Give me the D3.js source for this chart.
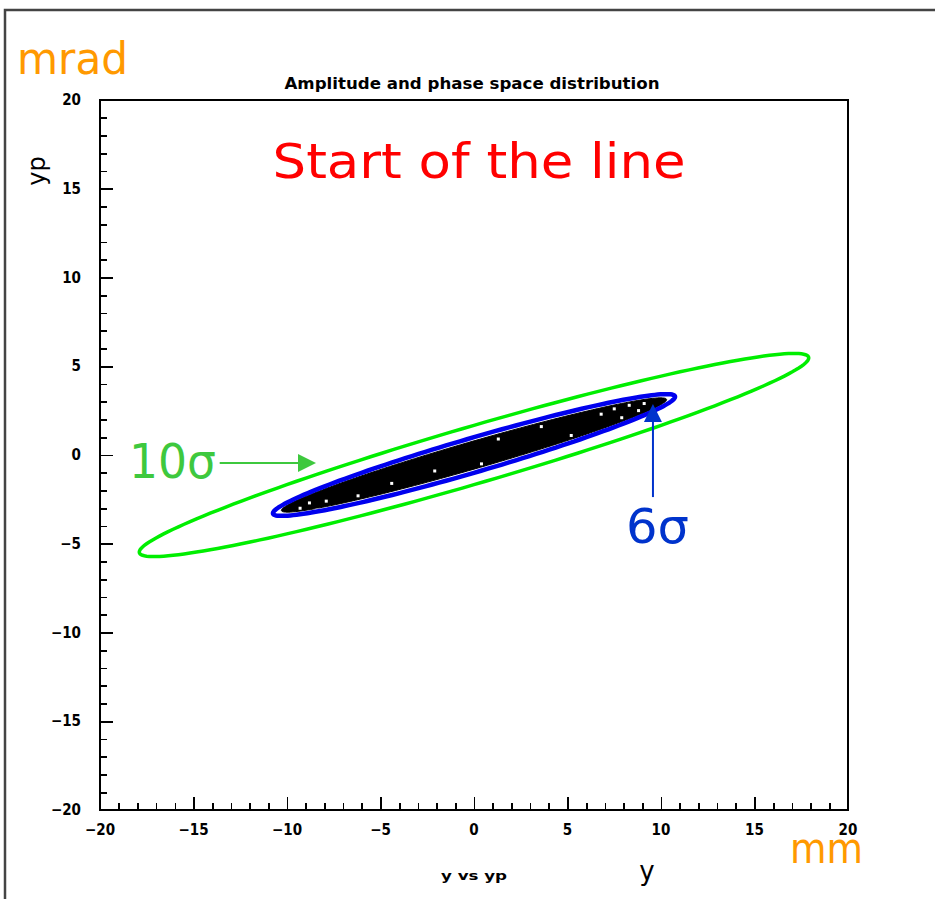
<!DOCTYPE html>
<html>
<head>
<meta charset="utf-8">
<style>
  body { margin: 0; background: white; }
  svg { font-family: "DejaVu Sans", sans-serif; }
  .axis path, .axis line { stroke: black; stroke-width: 1.6px; shape-rendering: crispEdges; }
</style>
<script src="https://cdn.jsdelivr.net/npm/d3@7"></script>
</head>
<body>
<div id="chart"></div>
<script>
// axis ranges and tick values
var xDomain = [-20, 20],
    yDomain = [-20, 20],
    majorTicks = [-20, -15, -10, -5, 0, 5, 10, 15, 20];

// phase-space contours: half width in y (mm), peak yp (mrad), yp at the y extreme
var contourNames = ["10σ", "6σ", "core"],
    contourYMax = [17.9, 10.75, 10.3],
    contourYpMax = [5.72, 3.43, 3.22],
    contourYpAtYMax = [5.47, 3.28, 3.12];

// a few empty spots seen inside the beam core (y, yp)
var holesY = [-9.3, -8.8, -8.4, -7.9, -7.3, -6.2, -4.4, -2.1, 1.3, 3.6, 6.8, 7.5, 7.9, 8.3, 8.8, 9.1, 5.2, 0.4],
    holesYp = [-3.0, -2.7, -3.1, -2.6, -2.9, -2.3, -1.6, -0.9, 0.9, 1.6, 2.3, 2.6, 2.1, 2.8, 2.5, 2.9, 1.1, -0.5];

var width = 935, height = 899;
var plotLeft = 100, plotRight = 848, plotTop = 100, plotBottom = 810;

var x = d3.scaleLinear().domain(xDomain).range([plotLeft, plotRight]);
var y = d3.scaleLinear().domain(yDomain).range([plotBottom, plotTop]);

var svg = d3.select("#chart").append("svg")
    .attr("width", width)
    .attr("height", height);

// outer frame
svg.append("rect")
    .attr("x", 5).attr("y", 10)
    .attr("width", 960).attr("height", 960)
    .attr("fill", "none")
    .attr("stroke", "#444")
    .attr("stroke-width", 2.5);

// ellipse outline from the contour parameters
function ellipsePoints(i) {
    var X = contourYMax[i], Y = contourYpMax[i];
    var phi = Math.acos(contourYpAtYMax[i] / Y);
    return d3.range(0, 2 * Math.PI, Math.PI / 90).map(function (t) {
        return [X * Math.cos(t), Y * Math.cos(t - phi)];
    });
}

var line = d3.line()
    .x(function (d) { return x(d[0]); })
    .y(function (d) { return y(d[1]); })
    .curve(d3.curveLinearClosed);

// core distribution
svg.append("path")
    .attr("d", line(ellipsePoints(2)))
    .attr("fill", "black")
    .attr("stroke", "black")
    .attr("stroke-width", 1);

svg.selectAll(".hole")
    .data(d3.range(holesY.length))
    .enter().append("rect")
    .attr("class", "hole")
    .attr("x", function (i) { return x(holesY[i]) - 1.5; })
    .attr("y", function (i) { return y(holesYp[i]) - 1.5; })
    .attr("width", 3).attr("height", 3)
    .attr("fill", "white");

// 6 sigma contour
svg.append("path")
    .attr("d", line(ellipsePoints(1)))
    .attr("fill", "none")
    .attr("stroke", "#0000ee")
    .attr("stroke-width", 4.5);

// 10 sigma contour
svg.append("path")
    .attr("d", line(ellipsePoints(0)))
    .attr("fill", "none")
    .attr("stroke", "#00ee00")
    .attr("stroke-width", 3.5);

// frame of the plot
svg.append("rect")
    .attr("x", plotLeft).attr("y", plotTop)
    .attr("width", plotRight - plotLeft).attr("height", plotBottom - plotTop)
    .attr("fill", "none")
    .attr("stroke", "black")
    .attr("stroke-width", 2);

function fmt(d) { return d < 0 ? "\u2212" + Math.abs(d) : String(d); }

var minor = d3.range(-20, 21, 1).filter(function (d) { return d % 5 !== 0; });
var tickFont = "bold 15px 'DejaVu Sans Condensed', sans-serif";

// x axis: major and minor ticks pointing in
var xAxis = svg.append("g").attr("class", "axis")
    .attr("transform", "translate(0," + plotBottom + ")")
    .call(d3.axisTop(x).tickValues(majorTicks).tickSize(13).tickFormat(""));
xAxis.select(".domain").remove();
var xMinor = svg.append("g").attr("class", "axis")
    .attr("transform", "translate(0," + plotBottom + ")")
    .call(d3.axisTop(x).tickValues(minor).tickSize(7).tickFormat(""));
xMinor.select(".domain").remove();
svg.append("g").selectAll("text")
    .data(majorTicks).enter().append("text")
    .attr("x", function (d) { return x(d); })
    .attr("y", plotBottom + 25)
    .attr("text-anchor", "middle")
    .style("font", tickFont)
    .text(fmt);

// y axis
var yAxis = svg.append("g").attr("class", "axis")
    .attr("transform", "translate(" + plotLeft + ",0)")
    .call(d3.axisRight(y).tickValues(majorTicks).tickSize(13).tickFormat(""));
yAxis.select(".domain").remove();
var yMinor = svg.append("g").attr("class", "axis")
    .attr("transform", "translate(" + plotLeft + ",0)")
    .call(d3.axisRight(y).tickValues(minor).tickSize(7).tickFormat(""));
yMinor.select(".domain").remove();
svg.append("g").selectAll("text")
    .data(majorTicks).enter().append("text")
    .attr("x", 81)
    .attr("y", function (d) { return y(d) + 5; })
    .attr("text-anchor", "end")
    .style("font", tickFont)
    .text(fmt);

// titles
svg.append("text")
    .attr("x", 472).attr("y", 89)
    .attr("text-anchor", "middle")
    .attr("textLength", 375).attr("lengthAdjust", "spacingAndGlyphs")
    .style("font", "bold 15px 'DejaVu Sans Condensed', sans-serif")
    .text("Amplitude and phase space distribution");

svg.append("text")
    .attr("transform", "translate(45,171) rotate(-90)")
    .attr("text-anchor", "middle")
    .style("font", "24px 'DejaVu Sans', sans-serif")
    .text("yp");

svg.append("text")
    .attr("x", 474).attr("y", 880)
    .attr("text-anchor", "middle")
    .attr("textLength", 66).attr("lengthAdjust", "spacingAndGlyphs")
    .style("font", "bold 13px 'DejaVu Sans Condensed', sans-serif")
    .text("y vs yp");

svg.append("text")
    .attr("x", 647).attr("y", 880)
    .attr("text-anchor", "middle")
    .style("font", "26px 'DejaVu Sans', sans-serif")
    .text("y");

// unit labels
svg.append("text")
    .attr("x", 17).attr("y", 74)
    .attr("fill", "#ff9900")
    .attr("textLength", 111).attr("lengthAdjust", "spacingAndGlyphs")
    .style("font", "44px 'DejaVu Sans Condensed', sans-serif")
    .text("mrad");

svg.append("text")
    .attr("x", 790).attr("y", 863)
    .attr("fill", "#ff9900")
    .attr("textLength", 73).attr("lengthAdjust", "spacingAndGlyphs")
    .style("font", "42px 'DejaVu Sans Condensed', sans-serif")
    .text("mm");

svg.append("text")
    .attr("x", x(0.27)).attr("y", 178)
    .attr("text-anchor", "middle")
    .attr("textLength", 413).attr("lengthAdjust", "spacingAndGlyphs")
    .attr("fill", "#ff0000")
    .style("font", "48px 'DejaVu Sans', sans-serif")
    .text("Start of the line");

// annotations with arrows
svg.append("text")
    .attr("x", 129).attr("y", 478)
    .attr("fill", "#3ec83e")
    .attr("textLength", 87).attr("lengthAdjust", "spacingAndGlyphs")
    .style("font", "48px 'DejaVu Sans', sans-serif")
    .text("10σ");

svg.append("text")
    .attr("x", 626).attr("y", 543)
    .attr("fill", "#0033cc")
    .attr("textLength", 63).attr("lengthAdjust", "spacingAndGlyphs")
    .style("font", "48px 'DejaVu Sans', sans-serif")
    .text("6σ");

var gTip = [x(-8.45), y(-0.45)], gTail = x(-13.6);
svg.append("line")
    .attr("x1", gTail).attr("y1", gTip[1])
    .attr("x2", gTip[0] - 16).attr("y2", gTip[1])
    .attr("stroke", "#3ec83e").attr("stroke-width", 2);
svg.append("path")
    .attr("d", "M" + gTip[0] + "," + gTip[1] + "L" + (gTip[0] - 18) + "," + (gTip[1] - 9) +
        "L" + (gTip[0] - 18) + "," + (gTip[1] + 9) + "Z")
    .attr("fill", "#3ec83e");

var bTip = [x(9.57), y(2.87)], bTail = y(-2.37);
svg.append("line")
    .attr("x1", bTip[0]).attr("y1", bTail)
    .attr("x2", bTip[0]).attr("y2", bTip[1] + 16)
    .attr("stroke", "#0033cc").attr("stroke-width", 2);
svg.append("path")
    .attr("d", "M" + bTip[0] + "," + bTip[1] + "L" + (bTip[0] - 9) + "," + (bTip[1] + 18) +
        "L" + (bTip[0] + 9) + "," + (bTip[1] + 18) + "Z")
    .attr("fill", "#0033cc");
</script>
</body>
</html>
